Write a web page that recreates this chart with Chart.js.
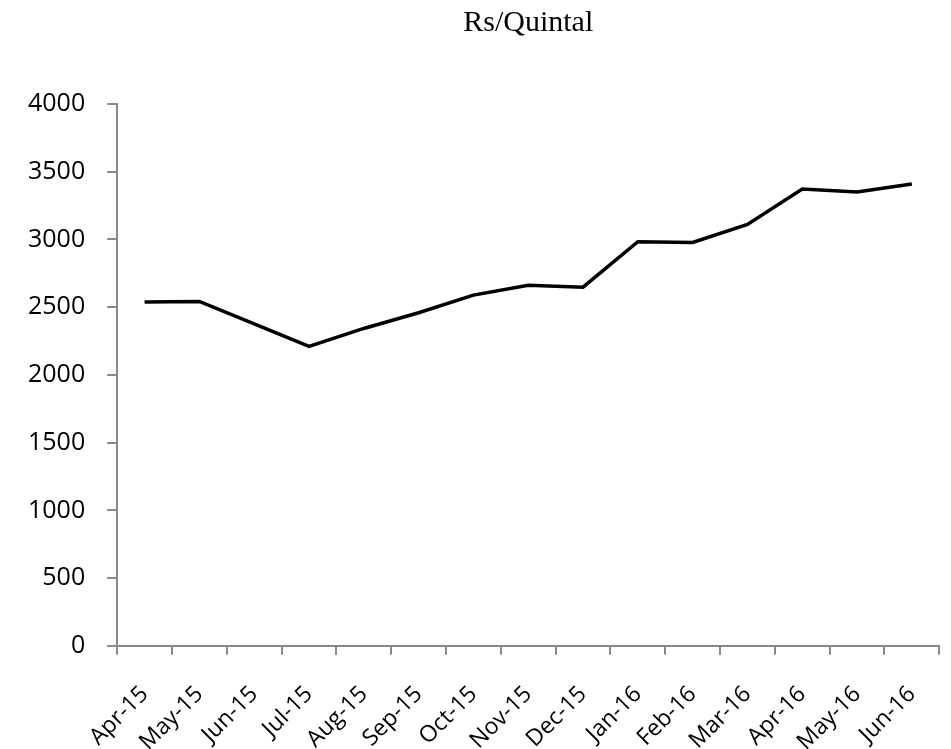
<!DOCTYPE html>
<html>
<head>
<meta charset="utf-8">
<script src="https://cdn.jsdelivr.net/npm/chart.js@4"></script>
<style>
    html, body { margin: 0; padding: 0; background: #fff; overflow: hidden; }
    #wrap { width: 958px; height: 749px; }
</style>
</head>
<body>
<div id="wrap"><canvas id="chart1"></canvas></div>
<script>
const months = ['Apr-15', 'May-15', 'Jun-15', 'Jul-15', 'Aug-15', 'Sep-15', 'Oct-15', 'Nov-15',
    'Dec-15', 'Jan-16', 'Feb-16', 'Mar-16', 'Apr-16', 'May-16', 'Jun-16']
const prices = [2538, 2542, 2376, 2210, 2343, 2459, 2589, 2662, 2648, 2983, 2978, 3111, 3372, 3350, 3409]
const yMin = 0
const yMax = 4000
const yStep = 500

Chart.defaults.color = '#000'
Chart.defaults.font.family = '"Open Sans", sans-serif'

const data = {
    labels: months,
    datasets: [{
        data: prices,
        borderColor: '#000',
        borderWidth: 3.5,
        pointRadius: 0,
        tension: 0,
        fill: false
    }]
}

let options = {
    responsive: true,
    maintainAspectRatio: false,
    animation: false,
    layout: {
        padding: { left: 6, right: 0, top: 0, bottom: -33 }
    },
    plugins: {
        legend: { display: false },
        tooltip: { enabled: false },
        title: {
            display: true,
            text: 'Rs/Quintal',
            fullSize: false,
            font: { family: '"Liberation Serif", serif', size: 30, weight: 'normal' },
            padding: { top: 5, bottom: 63 }
        }
    },
    scales: {
        x: {
            offset: true,
            grid: {
                offset: true,
                drawOnChartArea: false,
                drawTicks: true,
                tickLength: 9,
                color: '#898989',
                lineWidth: 2
            },
            border: { color: '#898989', width: 2 },
            ticks: {
                autoSkip: false,
                maxRotation: 45,
                minRotation: 45,
                padding: 26,
                font: { size: 23 }
            }
        },
        y: {
            min: yMin,
            max: yMax,
            grid: {
                drawOnChartArea: false,
                drawTicks: true,
                tickLength: 10,
                color: '#898989',
                lineWidth: 2
            },
            border: { color: '#898989', width: 2 },
            ticks: {
                stepSize: yStep,
                padding: 22,
                font: { size: 25 },
                callback: value => String(value)
            }
        }
    }
}

new Chart('chart1', { type: 'line', data, options })
</script>
</body>
</html>
